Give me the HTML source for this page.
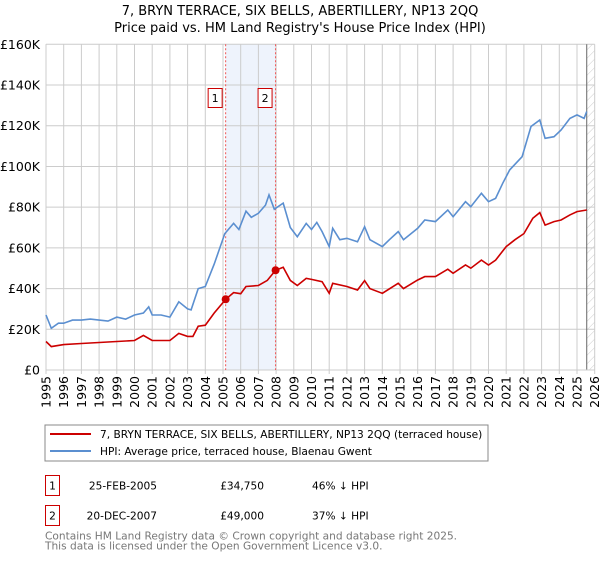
<!DOCTYPE html>
<html><head><meta charset="utf-8">
<style>
body{margin:0;background:#fff;font-family:"DejaVu Sans","Liberation Sans",sans-serif;}
svg text{font-family:"DejaVu Sans","Liberation Sans",sans-serif;}
</style></head>
<body>
<svg id="chart" width="600" height="560" xmlns="http://www.w3.org/2000/svg">
<defs>
<pattern id="hatch" width="6" height="6" patternUnits="userSpaceOnUse" patternTransform="rotate(45)">
<line x1="0" y1="0" x2="0" y2="6" stroke="#ccc" stroke-width="1"/>
</pattern>
</defs>
<text x="300" y="15" text-anchor="middle" font-size="13" fill="#000">7, BRYN TERRACE, SIX BELLS, ABERTILLERY, NP13 2QQ</text>
<text x="300" y="32" text-anchor="middle" font-size="13" fill="#000">Price paid vs. HM Land Registry's House Price Index (HPI)</text>
<g id="grid"></g>
<g id="marks"></g>
<g id="axes"></g>
<rect x="45" y="425" width="443" height="36" fill="#fff" stroke="#888"/>
<line x1="50" y1="434" x2="91" y2="434" stroke="#cc0000" stroke-width="2"/>
<text x="100" y="438" font-size="10.6">7, BRYN TERRACE, SIX BELLS, ABERTILLERY, NP13 2QQ (terraced house)</text>
<line x1="50" y1="451" x2="91" y2="451" stroke="#5b8fd0" stroke-width="2"/>
<text x="100" y="455" font-size="10.6">HPI: Average price, terraced house, Blaenau Gwent</text>
<g>
<rect x="45.5" y="475.5" width="14" height="20" fill="#fff" stroke="#cc0000"/>
<text x="52.5" y="489.5" text-anchor="middle" font-size="10.6">1</text>
<text x="157" y="489.5" text-anchor="end" font-size="10.6">25-FEB-2005</text>
<text x="264" y="489.5" text-anchor="end" font-size="10.6">£34,750</text>
<text x="312" y="489.5" font-size="10.6">46% ↓ HPI</text>
</g>
<g>
<rect x="45.5" y="505.5" width="14" height="20" fill="#fff" stroke="#cc0000"/>
<text x="52.5" y="519.5" text-anchor="middle" font-size="10.6">2</text>
<text x="157" y="519.5" text-anchor="end" font-size="10.6">20-DEC-2007</text>
<text x="264" y="519.5" text-anchor="end" font-size="10.6">£49,000</text>
<text x="312" y="519.5" font-size="10.6">37% ↓ HPI</text>
</g>
<text x="45" y="539.5" font-size="10.6" fill="#777">Contains HM Land Registry data © Crown copyright and database right 2025.</text>
<text x="45" y="549.5" font-size="10.6" fill="#777">This data is licensed under the Open Government Licence v3.0.</text>
</svg>
<script>
const hpiYears=[1995,1995.3,1995.7,1996,1996.5,1997,1997.5,1998,1998.5,1999,1999.5,2000,2000.5,2000.8,2001,2001.5,2002,2002.5,2003,2003.2,2003.6,2004,2004.5,2005.1,2005.6,2005.9,2006.3,2006.6,2007,2007.4,2007.6,2007.9,2008.4,2008.8,2009.2,2009.7,2010,2010.3,2010.6,2011,2011.2,2011.6,2012,2012.6,2013,2013.3,2014,2014.4,2014.9,2015.2,2016,2016.4,2017,2017.7,2018,2018.7,2019,2019.6,2020,2020.4,2020.8,2021.2,2021.9,2022.4,2022.9,2023.2,2023.7,2024.1,2024.6,2025,2025.4,2025.55];
const hpiValues=[27,20.5,23,23,24.5,24.5,25,24.5,24,26,25,27,28,31,27,27,26,33.5,30,29.5,40,41,52,67,72,69,78,75,77,81,86,79,82,70,65.5,72,69,72.5,68,60.6,69.6,64,64.7,63,70.4,64,60.6,64,68,64,69.6,73.7,72.9,78.6,75.3,82.7,80.2,86.8,82.7,84.3,91.7,98.3,104.8,119.6,122.8,113.8,114.6,117.9,123.6,125.3,123.6,127];
const priceYears=[1995,1995.3,1996,1997,1998,1999,2000,2000.5,2001,2002,2002.5,2003,2003.3,2003.6,2004,2004.5,2005.15,2005.6,2006,2006.3,2007,2007.5,2007.97,2008.4,2008.8,2009.2,2009.7,2010,2010.6,2011,2011.2,2012,2012.6,2013,2013.3,2014,2014.9,2015.2,2016,2016.4,2017,2017.7,2018,2018.7,2019,2019.6,2020,2020.4,2021,2021.5,2022,2022.5,2022.9,2023.2,2023.7,2024.1,2024.6,2025,2025.55];
const priceValues=[14,11.5,12.5,13,13.5,14,14.5,17,14.5,14.5,18,16.5,16.5,21.5,22,28,34.75,38,37.5,41,41.5,44,49,50.5,44,41.5,45,44.5,43.4,37.7,42.6,41,39.3,43.9,40,37.7,42.6,40,44.2,45.9,45.9,49.5,47.5,51.6,50,54,51.6,54,60.6,64,67,74.5,77.3,71.2,72.9,73.7,76.2,77.8,78.6];
const saleYears=[2005.15,2007.97];
const saleValues=[34.75,49];
const saleLabels=["1","2"];
const yTicks=[0,20,40,60,80,100,120,140,160];
const yTickLabels=["£0","£20K","£40K","£60K","£80K","£100K","£120K","£140K","£160K"];
const xTicks=[1995,1996,1997,1998,1999,2000,2001,2002,2003,2004,2005,2006,2007,2008,2009,2010,2011,2012,2013,2014,2015,2016,2017,2018,2019,2020,2021,2022,2023,2024,2025,2026];
const dataEnd=2025.55;

const X0=46,X1=594.7,Y0=370,Y1=44.3;
const sx=y=>X0+(y-1995)*(X1-X0)/31;
const sy=v=>Y0-(v-0)*(Y0-Y1)/160;
const NS="http://www.w3.org/2000/svg";
function mk(parent,tag,attrs){const e=document.createElementNS(NS,tag);for(const k in attrs)e.setAttribute(k,attrs[k]);parent.appendChild(e);return e;}
const grid=document.getElementById('grid'),marks=document.getElementById('marks'),axes=document.getElementById('axes');

let sh=mk(grid,'rect',{x:sx(saleYears[0]),y:Y1,width:sx(saleYears[1])-sx(saleYears[0]),height:Y0-Y1,fill:'#eef3fc'});


xTicks.forEach(t=>{
  let l=mk(grid,'line',{x1:sx(t),x2:sx(t),y1:Y1,y2:Y0+4,stroke:'#ccc','stroke-width':1});
  
  
  let tx=mk(axes,'text',{x:0,y:0,'font-size':12.5,'text-anchor':'end',transform:`translate(${sx(t)+4.5},${Y0+6}) rotate(-90)`});
  tx.textContent=t;
  
  
});
yTicks.forEach((t,i)=>{
  let l=mk(grid,'line',{x1:X0,x2:X1,y1:sy(t),y2:sy(t),stroke:'#ccc','stroke-width':1});
  
  
  let tx=mk(axes,'text',{x:40,y:sy(t)+4.5,'font-size':12.5,'text-anchor':'end'});
  tx.textContent=yTickLabels[i];
  
  
});
let ht=mk(grid,'rect',{x:sx(dataEnd),y:Y1,width:X1-sx(dataEnd),height:Y0-Y1,fill:'url(#hatch)'});


let el=mk(grid,'line',{x1:sx(dataEnd),x2:sx(dataEnd),y1:Y1,y2:Y0,stroke:'#666','stroke-width':1});


let ax=mk(grid,'path',{d:`M${X0},${Y1}V${Y0}H${X1}`,fill:'none',stroke:'#ccc'});



saleYears.forEach((s,i)=>{
  let l=mk(marks,'line',{x1:sx(s),x2:sx(s),y1:Y1,y2:Y0,stroke:'#ee5555','stroke-width':1,'stroke-dasharray':'2,2'});
  
  
});
function poly(xs,vs){return xs.map((x,i)=>(i?'L':'M')+sx(x).toFixed(1)+','+sy(vs[i]).toFixed(1)).join('');}
let hp=mk(marks,'path',{d:poly(hpiYears,hpiValues),fill:'none',stroke:'#5b8fd0','stroke-width':1.6});


let pp=mk(marks,'path',{d:poly(priceYears,priceValues),fill:'none',stroke:'#cc0000','stroke-width':1.6});


saleYears.forEach((s,i)=>{
  let c=mk(marks,'circle',{cx:sx(s),cy:sy(saleValues[i]),r:4,fill:'#cc0000'});
  
  
  let g=mk(marks,'g',{});
  
  
  mk(g,'rect',{x:sx(s)-17.5,y:88.5,width:14,height:19,fill:'#fff',stroke:'#cc0000'});
  let t=mk(g,'text',{x:sx(s)-10.5,y:102,'font-size':11,'text-anchor':'middle'});
  t.textContent=saleLabels[i];
});
</script>
</body></html>
